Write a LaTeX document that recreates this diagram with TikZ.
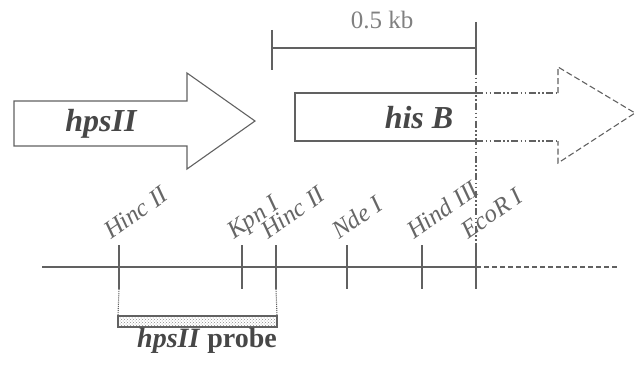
\documentclass[tikz,border=0pt]{standalone}
\usepackage{fontspec}
\setmainfont{Liberation Serif}
\usetikzlibrary{positioning,patterns,calc}

\begin{document}
\begin{tikzpicture}[x=1pt,y=-1pt,
  line/.style={draw=black!62,line width=1.1pt},
  dashdot/.style={dash pattern=on 7pt off 2.5pt on 1.5pt off 2.5pt on 1.5pt off 2.5pt},
  site/.style={rotate=35,anchor=base west,inner sep=0pt,text=black!60,font=\fontsize{25}{25}\selectfont\itshape},
  gene/.style={inner sep=0pt,text=black!72,font=\fontsize{32}{32}\selectfont\bfseries\itshape},
  scalelbl/.style={inner sep=0pt,text=black!50,font=\fontsize{25}{25}\selectfont}]

    \useasboundingbox (0,0) rectangle (639,369);

    % Scale bar
	\coordinate (barL) at (272,48);
	\coordinate (barR) at (476,48);
	\draw[line] (barL) -- (barR);
	\draw[line] ($(barL)+(0,-18)$) -- ($(barL)+(0,22)$);
	\draw[line] ($(barR)+(0,-26)$) -- ($(barR)+(0,20)$);
	\node [scalelbl] at (382,20) (kb) {0.5 kb};

    % Genes
	\draw[line] (14,101) -- (187,101) -- (187,73) -- (255,121) -- (187,169) -- (187,146) -- (14,146) -- cycle;
	\node [gene] at (101,124) (hps) {hpsII};

	\draw[line] (476,93) -- (295,93) -- (295,141) -- (476,141);
	\draw[line,dashdot] (476,93) -- (558,93);
	\draw[line,dashdot] (476,141) -- (558,141);
	\draw[line,dash pattern=on 6pt off 3pt] (558,93) -- (558,67) -- (635,113) -- (558,163) -- (558,141);
	\node [gene] at (419,118) (his) {his B};

    % Restriction map
	\coordinate (mapL) at (42,267);
	\coordinate (mapR) at (476,267);
	\coordinate (mapEnd) at (618,267);
	\draw[line] (mapL) -- (mapR);
	\draw[line,dash pattern=on 5pt off 3pt] (mapR) -- (mapEnd);

	\foreach \name/\x/\enz in {hincA/119/Hinc II, kpn/242/Kpn I, hincB/276/Hinc II, nde/347/Nde I, hind/422/Hind III, eco/476/EcoR I}
	{
		\coordinate (\name) at (\x,267);
		\draw[line] ($(\name)+(0,-22)$) -- ($(\name)+(0,22)$);
		\node [site] at ($(\name)+(-8,-27)$) (\name-lbl) {\enz};
	}

	\draw[line,dashdot] ($(barR)+(0,20)$) -- ($(eco)+(0,-22)$);

    % Probe
	\coordinate (probeL) at (118,316);
	\coordinate (probeR) at (277,316);
	\draw[line,densely dotted] ($(hincA)+(0,22)$) -- (probeL);
	\draw[line,densely dotted] ($(hincB)+(0,22)$) -- (probeR);
	\draw[line,pattern=crosshatch dots,pattern color=black!45] (probeL) rectangle ($(probeR)+(0,11)$);
	\node [inner sep=0pt,text=black!72,font=\fontsize{28}{28}\selectfont\bfseries] at (207,341) (probe) {\textit{hpsII} probe};

\end{tikzpicture}
\end{document}
